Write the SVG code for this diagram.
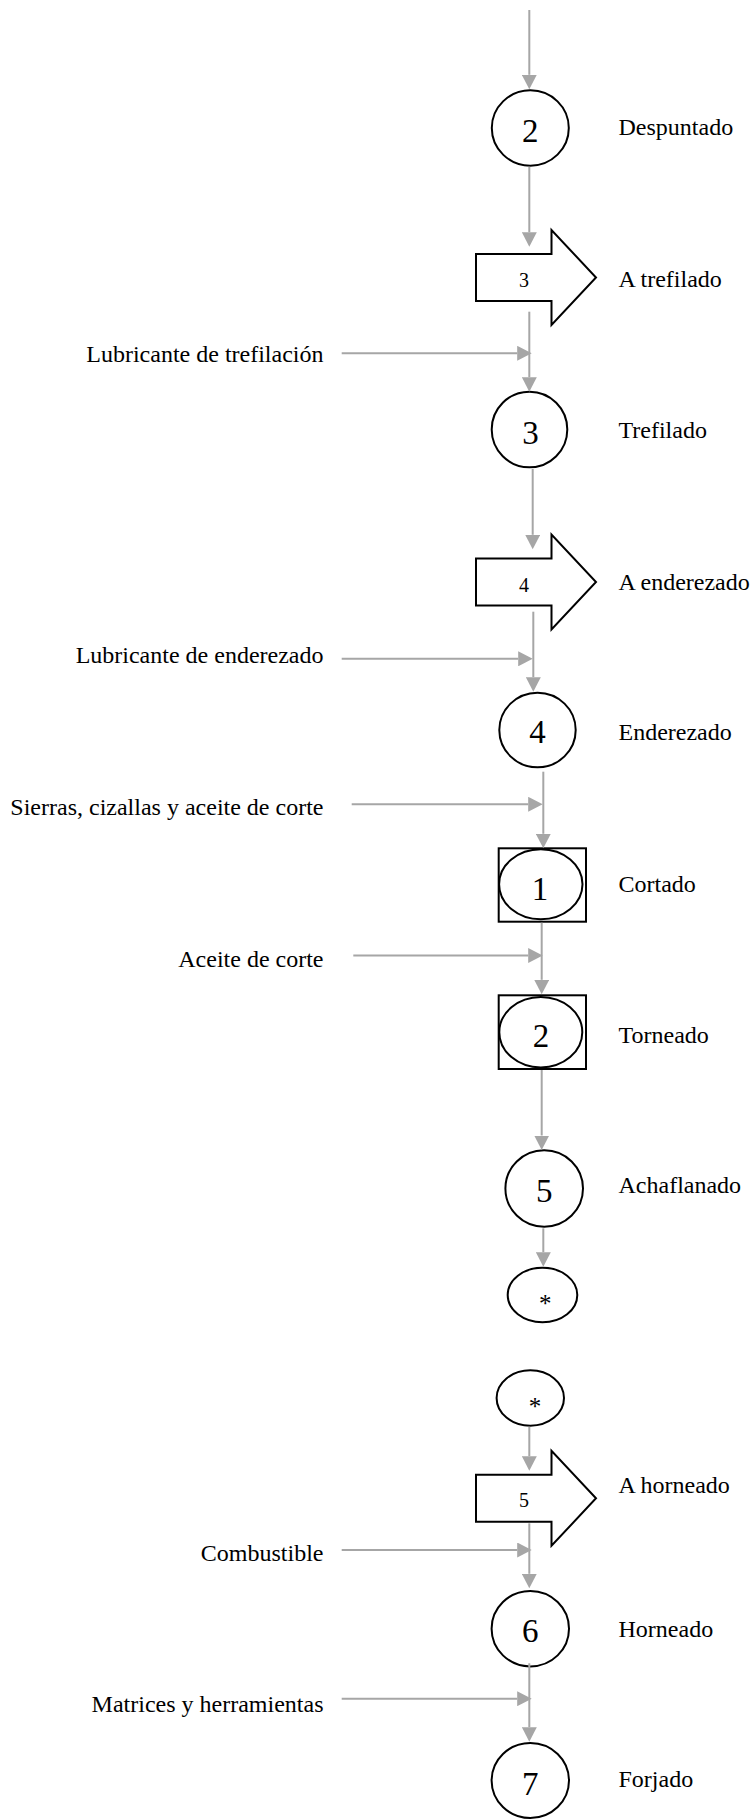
<svg xmlns="http://www.w3.org/2000/svg" width="755" height="1819" viewBox="0 0 755 1819">
  <style>
    .lbl { font-family: "Liberation Serif", "Times New Roman", serif; font-size: 24px; fill: #000; }
    .num { font-family: "Liberation Serif", "Times New Roman", serif; font-size: 33px; fill: #000; text-anchor: middle; }
    .anum { font-family: "Liberation Serif", "Times New Roman", serif; font-size: 20px; fill: #000; text-anchor: middle; }
    .star { font-family: "Liberation Serif", "Times New Roman", serif; font-size: 25px; fill: #000; text-anchor: middle; }
    .shape { fill: #fff; stroke: #000; stroke-width: 2; }
    .flow { fill: none; stroke: #a6a6a6; stroke-width: 2; marker-end: url(#ah); }
  </style>
  <defs>
    <marker id="ah" viewBox="0 0 15 15" markerWidth="15" markerHeight="15" markerUnits="userSpaceOnUse" refX="0" refY="7.5" orient="auto">
      <path d="M0,0 L14.5,7.5 L0,15 Z" fill="#a6a6a6"/>
    </marker>
    <!-- block arrow (transport), centred vertically on y=0 -->
    <path id="blockArrow" d="M476,-23.5 L551.5,-23.5 L551.5,-47.5 L596,0 L551.5,47.5 L551.5,23.5 L476,23.5 Z"/>
  </defs>

  <!-- nodes -->
  <g id="op2">
    <ellipse class="shape" cx="530.3" cy="128" rx="38.5" ry="37.7"/>
    <text class="num" x="530.3" y="141.5">2</text>
    <text class="lbl" x="618.5" y="135">Despuntado</text>
  </g>
  <g id="transport3">
    <use href="#blockArrow" class="shape" transform="translate(0,277.5)"/>
    <text class="anum" x="524" y="286.7">3</text>
    <text class="lbl" x="618.5" y="286.7">A trefilado</text>
  </g>
  <g id="op3">
    <ellipse class="shape" cx="529.5" cy="429.5" rx="37.8" ry="37.8"/>
    <text class="num" x="530.5" y="444">3</text>
    <text class="lbl" x="618.5" y="438.3">Trefilado</text>
  </g>
  <g id="transport4">
    <use href="#blockArrow" class="shape" transform="translate(0,582)"/>
    <text class="anum" x="524" y="591.7">4</text>
    <text class="lbl" x="618.5" y="590">A enderezado</text>
  </g>
  <g id="op4">
    <ellipse class="shape" cx="537.5" cy="730" rx="38.2" ry="37.3"/>
    <text class="num" x="537.5" y="742.7">4</text>
    <text class="lbl" x="618.5" y="740">Enderezado</text>
  </g>
  <g id="combined1">
    <rect class="shape" x="498.7" y="848.3" width="87.3" height="73.4"/>
    <ellipse class="shape" cx="540.8" cy="884.2" rx="41.7" ry="35"/>
    <text class="num" x="540" y="900">1</text>
    <text class="lbl" x="618.5" y="891.7">Cortado</text>
  </g>
  <g id="combined2">
    <rect class="shape" x="498.7" y="995.3" width="87.3" height="73.7"/>
    <ellipse class="shape" cx="540.8" cy="1032.2" rx="41.5" ry="35.2"/>
    <text class="num" x="541" y="1046.7">2</text>
    <text class="lbl" x="618.5" y="1043.3">Torneado</text>
  </g>
  <g id="op5">
    <ellipse class="shape" cx="544.2" cy="1188.5" rx="38.8" ry="38.2"/>
    <text class="num" x="544.3" y="1201.7">5</text>
    <text class="lbl" x="618.5" y="1193.3">Achaflanado</text>
  </g>
  <g id="connectorOut">
    <ellipse class="shape" cx="542.5" cy="1295" rx="34.8" ry="27.3"/>
    <text class="star" x="545.3" y="1311.5">*</text>
  </g>
  <g id="connectorIn">
    <ellipse class="shape" cx="530.3" cy="1398" rx="33.7" ry="27.7"/>
    <text class="star" x="535" y="1414.5">*</text>
  </g>
  <g id="transport5">
    <use href="#blockArrow" class="shape" transform="translate(0,1498.3)"/>
    <text class="anum" x="524" y="1507.3">5</text>
    <text class="lbl" x="618.5" y="1493.3">A horneado</text>
  </g>
  <g id="op6">
    <ellipse class="shape" cx="530.3" cy="1628.7" rx="38.7" ry="37.7"/>
    <text class="num" x="530.3" y="1641.7">6</text>
    <text class="lbl" x="618.5" y="1636.7">Horneado</text>
  </g>
  <g id="op7">
    <ellipse class="shape" cx="530.3" cy="1780.5" rx="38.7" ry="37.5"/>
    <text class="num" x="530.3" y="1795">7</text>
    <text class="lbl" x="618.5" y="1786.7">Forjado</text>
  </g>

  <!-- inputs -->
  <g id="inputs" text-anchor="end">
    <text class="lbl" x="323.5" y="361.7" text-anchor="end">Lubricante de trefilación</text>
    <text class="lbl" x="323.5" y="663.3" text-anchor="end">Lubricante de enderezado</text>
    <text class="lbl" x="323.5" y="815" text-anchor="end">Sierras, cizallas y aceite de corte</text>
    <text class="lbl" x="323.5" y="966.7" text-anchor="end">Aceite de corte</text>
    <text class="lbl" x="323.5" y="1560.7" text-anchor="end">Combustible</text>
    <text class="lbl" x="323.5" y="1712.3" text-anchor="end">Matrices y herramientas</text>
  </g>

  <!-- connectors -->
  <g id="connectors">
    <path class="flow" d="M529.3,10 V74.8"/>
    <path class="flow" d="M529.3,166.7 V232.2"/>
    <path class="flow" d="M529.3,311.7 V377.2"/>
    <path class="flow" d="M532.7,469 V534.8"/>
    <path class="flow" d="M533.3,611.7 V677.2"/>
    <path class="flow" d="M543.3,771.7 V833.8"/>
    <path class="flow" d="M541.7,922.7 V979.8"/>
    <path class="flow" d="M541.7,1070 V1135.5"/>
    <path class="flow" d="M543.3,1228.3 V1252.2"/>
    <path class="flow" d="M529.3,1426.7 V1456.2"/>
    <path class="flow" d="M529.3,1523.3 V1573.8"/>
    <path class="flow" d="M529.3,1663.3 V1727.2"/>

    <path class="flow" d="M341.7,353.3 H517.2"/>
    <path class="flow" d="M341.7,658.8 H518.2"/>
    <path class="flow" d="M351.7,804.3 H528.2"/>
    <path class="flow" d="M353.3,955.5 H528.2"/>
    <path class="flow" d="M341.7,1550 H517.2"/>
    <path class="flow" d="M341.7,1698.7 H517.2"/>
  </g>
</svg>
